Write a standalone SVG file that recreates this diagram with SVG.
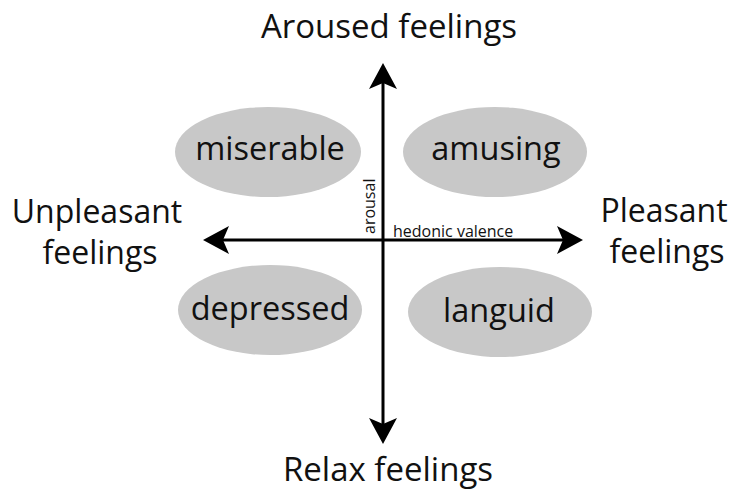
<svg xmlns="http://www.w3.org/2000/svg" width="730" height="492" viewBox="0 0 730 492">
  <style>
    .lbl { font-family: "Open Sans", "Liberation Sans", sans-serif; fill: #111; }
    .big { font-size: 32.5px; }
    .pole { font-size: 33px; }
    .side { font-size: 32px; }
    .node { fill: #c8c8c8; }
    .small { font-size: 16px; }
    .axis { stroke: #000; stroke-width: 3; fill: none; }
    .head { fill: #000; }
  </style>
  <rect width="730" height="492" fill="#fff"/>

  <!-- quadrant ellipses -->
  <g id="miserable">
    <ellipse class="node" cx="268" cy="152" rx="93" ry="45"/>
    <text class="lbl big" x="270" y="160" text-anchor="middle">miserable</text>
  </g>
  <g id="amusing">
    <ellipse class="node" cx="495" cy="152" rx="92" ry="45"/>
    <text class="lbl big" x="496" y="160" text-anchor="middle">amusing</text>
  </g>
  <g id="depressed">
    <ellipse class="node" cx="270" cy="310" rx="92" ry="45"/>
    <text class="lbl big" x="270" y="320" text-anchor="middle">depressed</text>
  </g>
  <g id="languid">
    <ellipse class="node" cx="500" cy="312" rx="92" ry="45"/>
    <text class="lbl big" x="499" y="322" text-anchor="middle">languid</text>
  </g>

  <!-- axes -->
  <g id="connectors">
    <line class="axis" x1="383" y1="80" x2="383" y2="426"/>
    <line class="axis" x1="220" y1="240" x2="566" y2="240"/>
    <path class="head" d="M383,63 L397,89 L383,83 L369,89 Z"/>
    <path class="head" d="M383,444 L369,418 L383,424 L397,418 Z"/>
    <path class="head" d="M203,240 L229,226 L223,240 L229,254 Z"/>
    <path class="head" d="M583,240 L557,226 L563,240 L557,254 Z"/>
  </g>

  <!-- axis labels -->
  <g id="axis-labels">
    <text class="lbl small" transform="translate(375,234) rotate(-90)">arousal</text>
    <text class="lbl small" x="393" y="237">hedonic valence</text>
  </g>

  <!-- pole labels -->
  <g id="aroused">
    <text class="lbl pole" x="389" y="38" text-anchor="middle">Aroused feelings</text>
  </g>
  <g id="relax">
    <text class="lbl pole" x="388" y="481" text-anchor="middle">Relax feelings</text>
  </g>
  <g id="unpleasant">
    <text class="lbl side" text-anchor="middle"><tspan x="97" y="223">Unpleasant</tspan><tspan x="100" y="264">feelings</tspan></text>
  </g>
  <g id="pleasant">
    <text class="lbl side" text-anchor="middle"><tspan x="664" y="222">Pleasant</tspan><tspan x="667" y="263">feelings</tspan></text>
  </g>
</svg>
